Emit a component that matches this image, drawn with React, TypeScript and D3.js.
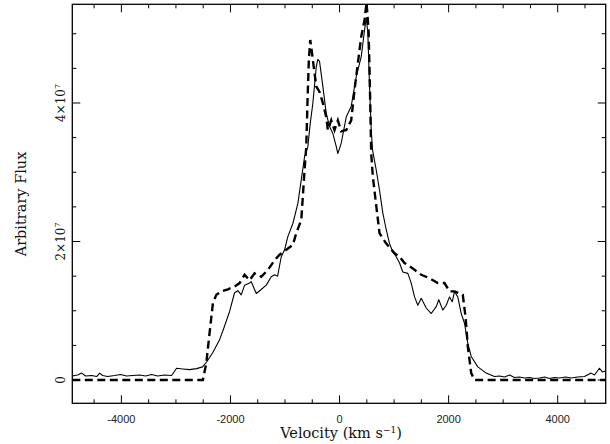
import React from "react";
import * as d3 from "d3";

// Observed spectrum (solid): velocity (km/s), flux (units of 1e7)
const obsVelocity = [
  -4900, -4802, -4729, -4656, -4546, -4454, -4399, -4344, -4253, -4125, -4015, -3904, -3794, -3666,
  -3556, -3446, -3336, -3208, -3080, -2988, -2878, -2750, -2621, -2511, -2438, -2328, -2200, -2108,
  -2016, -1925, -1864, -1802, -1741, -1650, -1619, -1527, -1448, -1344, -1252, -1192, -1136, -1069,
  -1008, -948, -856, -764, -702, -642, -581, -541, -489, -427, -398, -367, -306, -244, -183, -123,
  -60, -31, 31, 123, 214, 306, 398, 458, 489, 519, 550, 581, 605, 673, 733, 794, 856, 917, 971,
  1039, 1100, 1160, 1252, 1314, 1375, 1435, 1498, 1589, 1681, 1773, 1820, 1893, 1956, 2016, 2066,
  2108, 2168, 2231, 2291, 2352, 2414, 2535, 2689, 2841, 2933, 3024, 3116, 3208, 3299, 3391, 3483,
  3574, 3666, 3758, 3849, 3941, 4033, 4143, 4253, 4363, 4491, 4613, 4674, 4766, 4821, 4876,
];
const obsFlux = [
  0.058, 0.072, 0.1, 0.058, 0.065, 0.05, 0.1, 0.065, 0.05, 0.065, 0.08, 0.058, 0.065, 0.072,
  0.058, 0.08, 0.058, 0.072, 0.065, 0.17, 0.16, 0.15, 0.165, 0.19, 0.26, 0.39, 0.58, 0.78,
  0.99, 1.26, 1.29, 1.23, 1.37, 1.4, 1.42, 1.25, 1.3, 1.37, 1.49, 1.52, 1.5, 1.78,
  1.88, 2.07, 2.26, 2.55, 2.89, 3.22, 3.37, 3.68, 4.0, 4.52, 4.63, 4.6, 4.24, 3.85, 3.66, 3.56,
  3.37, 3.27, 3.42, 3.8, 3.95, 4.38, 4.67, 5.05, 5.23, 5.01, 4.24, 3.61, 3.32, 3.03, 2.74, 2.41, 2.17, 1.97, 1.86,
  1.78, 1.69, 1.56, 1.54, 1.4, 1.2, 1.08, 1.18, 1.04, 0.96, 1.06, 1.16, 1.01, 1.08, 1.2, 1.13,
  1.28, 1.2, 0.96, 0.82, 0.53, 0.34, 0.19, 0.1, 0.05, 0.058, 0.043, 0.072, 0.036, 0.043, 0.029, 0.036,
  0.022, 0.029, 0.043, 0.022, 0.036, 0.029, 0.043, 0.029, 0.043, 0.05, 0.1, 0.072, 0.17, 0.115, 0.13,
];

// Model spectrum (dashed)
const modelVelocity = [
  -4900, -2506, -2443, -2383, -2322, -2260, -2168, -2047, -1925, -1833, -1741, -1650, -1558, -1435,
  -1314, -1191, -1100, -977, -856, -794, -702, -673, -642, -610, -587, -563, -537, -519, -489,
  -427, -367, -306, -244, -214, -152, -92, -31, 31, 123, 214, 275, 335, 398, 458, 495, 532, 550,
  581, 610, 660, 733, 856, 1008, 1100, 1191, 1344, 1498, 1650, 1802, 1925, 2016, 2108, 2200, 2260,
  2310, 2352, 2414, 2475, 4900,
];
const modelFlux = [
  0, 0, 0.245, 0.68, 1.11, 1.23, 1.28, 1.31, 1.35, 1.4, 1.52, 1.44, 1.54, 1.49,
  1.59, 1.73, 1.81, 1.88, 1.95, 2.12, 2.31, 2.65, 3.03, 3.37, 4.04, 4.62, 4.91, 4.81, 4.62,
  4.24, 4.16, 4.0, 3.8, 3.61, 3.75, 3.61, 3.75, 3.59, 3.61, 3.75, 4.19, 4.57, 4.96, 5.2, 5.45, 5.05, 4.48,
  3.27, 2.94, 2.6, 2.12, 1.97, 1.83, 1.78, 1.69, 1.61, 1.52, 1.47, 1.4, 1.4, 1.28, 1.28, 1.25, 1.23,
  0.91, 0.48, 0.1, 0, 0,
];

const xMajorTicks = [-4000, -2000, 0, 2000, 4000];
const yMajorTicks = [0, 2, 4];
const yMajorLabels = ["0", "2×10", "4×10"];

const W = 610;
const H = 444;
const L = 72.3;
const R = 605.7;
const T = 4.3;
const B = 403.3;

export default function App() {
  const x = d3.scaleLinear().domain([-4900, 4880]).range([L, R]);
  const y = d3.scaleLinear().domain([-0.336, 5.425]).range([B, T]);

  const obs = obsVelocity.map((v, i) => [v, obsFlux[i]] as [number, number]);
  const mod = modelVelocity.map((v, i) => [v, modelFlux[i]] as [number, number]);
  const line = d3
    .line<[number, number]>()
    .x((d) => x(d[0]))
    .y((d) => y(d[1]));

  const xMinor = d3.range(-4500, 4900, 500).filter((v) => !xMajorTicks.includes(v));
  const yMinor = d3.range(0, 5.5, 0.5).filter((v) => !yMajorTicks.includes(v));

  const ink = "#000";
  const serif = "'DejaVu Serif', 'Liberation Serif', serif";
  const sans = "'Liberation Sans', Arial, sans-serif";

  return (
    <svg
      width={W}
      height={H}
      style={{ position: "absolute", left: 0, top: 0, background: "#fff" }}
    >
      <defs>
        <clipPath id="plot">
          <rect x={L} y={T} width={R - L} height={B - T} />
        </clipPath>
      </defs>
      <rect x={0} y={0} width={W} height={H} fill="#fff" />

      <g clipPath="url(#plot)">
        <path d={line(obs) || ""} fill="none" stroke={ink} strokeWidth={1.1} strokeLinejoin="round" />
        <path
          d={line(mod) || ""}
          fill="none"
          stroke={ink}
          strokeWidth={2.4}
          strokeDasharray="8,4.5"
        />
      </g>

      {/* frame */}
      <rect x={L} y={T} width={R - L} height={B - T} fill="none" stroke={ink} strokeWidth={1.3} />

      {/* x ticks */}
      {xMajorTicks.map((v) => (
        <g key={"xM" + v}>
          <line x1={x(v)} x2={x(v)} y1={B} y2={B - 8} stroke={ink} strokeWidth={1} />
          <line x1={x(v)} x2={x(v)} y1={T} y2={T + 8} stroke={ink} strokeWidth={1} />
          <text
            x={x(v)}
            y={423}
            textAnchor="middle"
            fontFamily={sans}
            fontSize={11}
            fill="#222"
          >
            {v}
          </text>
        </g>
      ))}
      {xMinor.map((v) => (
        <g key={"xm" + v}>
          <line x1={x(v)} x2={x(v)} y1={B} y2={B - 4} stroke={ink} strokeWidth={1} />
          <line x1={x(v)} x2={x(v)} y1={T} y2={T + 4} stroke={ink} strokeWidth={1} />
        </g>
      ))}

      {/* y ticks */}
      {yMajorTicks.map((v, i) => (
        <g key={"yM" + v}>
          <line x1={L} x2={L + 8} y1={y(v)} y2={y(v)} stroke={ink} strokeWidth={1} />
          <line x1={R} x2={R - 8} y1={y(v)} y2={y(v)} stroke={ink} strokeWidth={1} />
          <text
            transform={`translate(65,${y(v)}) rotate(-90)`}
            textAnchor="middle"
            fontFamily={serif}
            fontSize={12}
            fill="#111"
          >
            {yMajorLabels[i]}
            {v !== 0 && (
              <tspan dy={-5} fontSize={8}>
                7
              </tspan>
            )}
          </text>
        </g>
      ))}
      {yMinor.map((v) => (
        <g key={"ym" + v}>
          <line x1={L} x2={L + 4} y1={y(v)} y2={y(v)} stroke={ink} strokeWidth={1} />
          <line x1={R} x2={R - 4} y1={y(v)} y2={y(v)} stroke={ink} strokeWidth={1} />
        </g>
      ))}

      {/* axis titles */}
      <text x={341} y={438} textAnchor="middle" fontFamily={serif} fontSize={14.5} fill="#111">
        Velocity (km s
        <tspan dy={-5} fontSize={9}>
          −1
        </tspan>
        <tspan dy={5}>)</tspan>
      </text>
      <text
        transform={`translate(26,204) rotate(-90)`}
        textAnchor="middle"
        fontFamily={serif}
        fontSize={14.5}
        fill="#111"
      >
        Arbitrary Flux
      </text>
    </svg>
  );
}
